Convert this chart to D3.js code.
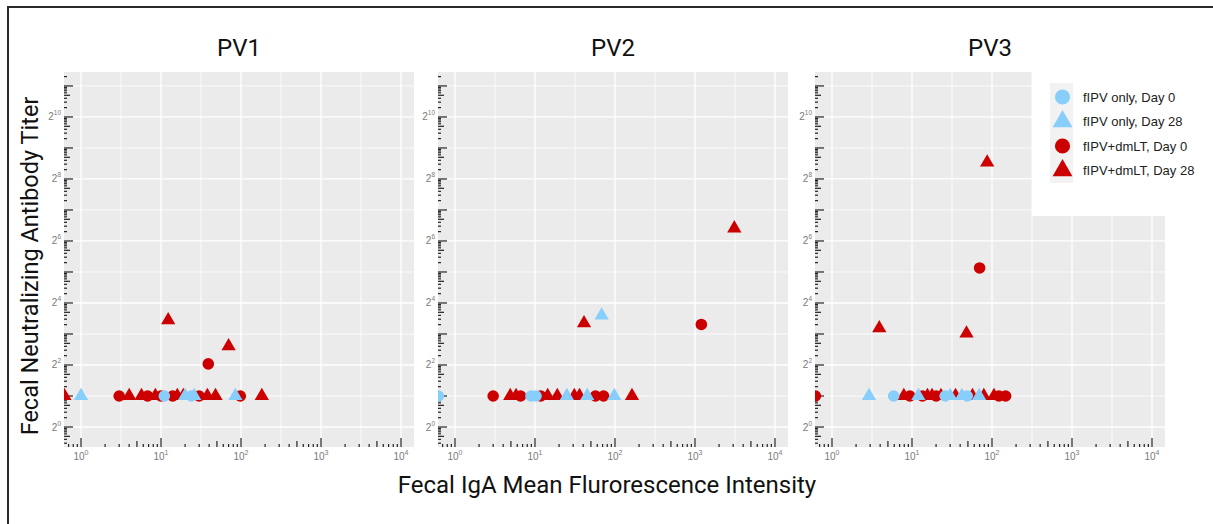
<!DOCTYPE html>
<html>
<head>
<meta charset="utf-8">
<script src="https://cdn.jsdelivr.net/npm/d3@7"></script>
<style>
  body { margin: 0; background: #fff; }
  svg { display: block; }
</style>
</head>
<body>
<svg id="chart"></svg>
<script>
// values: [MFI, titer]
const panels = ['PV1', 'PV2', 'PV3'];
const groups = ['fIPV only, Day 0', 'fIPV only, Day 28', 'fIPV+dmLT, Day 0', 'fIPV+dmLT, Day 28'];

const pv1IpvDay0 = [[11, 2], [24, 2]];
const pv1IpvDay28 = [[1.0, 2], [20, 2], [26, 2], [85, 2]];
const pv1DmltDay0 = [[3.0, 2], [6.8, 2], [10, 2], [14, 2], [30, 2], [98, 2], [39, 4.1]];
const pv1DmltDay28 = [[0.62, 2], [4, 2], [5.7, 2], [8.5, 2], [16, 2], [19, 2], [38, 2], [48, 2], [182, 2], [12.3, 10.9], [70, 6.1]];

const pv2IpvDay0 = [[0.62, 2], [8.9, 2], [10.3, 2]];
const pv2IpvDay28 = [[25, 2], [45, 2], [98, 2], [68, 12.1]];
const pv2DmltDay0 = [[3.0, 2], [6.6, 2], [11.8, 2], [57, 2], [72, 2], [1200, 9.9]];
const pv2DmltDay28 = [[4.9, 2], [5.8, 2], [14.4, 2], [19, 2], [31, 2], [36, 2], [163, 2], [41, 10.2], [3100, 85]];

const pv3IpvDay0 = [[5.9, 2], [26, 2], [49, 2]];
const pv3IpvDay28 = [[2.9, 2], [12, 2], [30, 2], [42, 2], [69, 2]];
const pv3DmltDay0 = [[0.62, 2], [9.4, 2], [13.5, 2], [20, 2], [122, 2], [148, 2], [70, 35]];
const pv3DmltDay28 = [[7.9, 2], [15.6, 2], [17.8, 2], [23, 2], [35, 2], [57, 2], [79, 2], [106, 2], [87, 370], [3.9, 9.1], [48, 8.1]];

const xTickExps = [0, 1, 2, 3, 4];
const yTickExps = [0, 2, 4, 6, 8, 10];

const panelData = [
    [pv1DmltDay0, pv1DmltDay28, pv1IpvDay0, pv1IpvDay28],
    [pv2DmltDay0, pv2DmltDay28, pv2IpvDay0, pv2IpvDay28],
    [pv3DmltDay0, pv3DmltDay28, pv3IpvDay0, pv3IpvDay28]
];
// group index for each entry of panelData rows
const drawOrder = [2, 3, 0, 1];

const width = 1213;
const height = 524;
const colors = ['#87CEFA', '#87CEFA', '#CC0000', '#CC0000'];
const shapes = [d3.symbolCircle, d3.symbolTriangle, d3.symbolCircle, d3.symbolTriangle];

const svg = d3.select('#chart')
    .attr('width', width)
    .attr('height', height);

// outer frame (top and left visible)
svg.append('path')
    .attr('d', `M8,${height} L8,7 L${width},7`)
    .attr('fill', 'none')
    .attr('stroke', '#2b2b2b')
    .attr('stroke-width', 2);

const panelW = 350;
const panelH = 375;
const panelTop = 72;
const panelLefts = [64, 438, 815];

const x = d3.scaleLog().base(10)
    .domain([Math.pow(10, -0.2125), Math.pow(10, 4.1625)])
    .range([0, panelW]);
const y = d3.scaleLog().base(2)
    .domain([Math.pow(2, -0.645), Math.pow(2, 11.45)])
    .range([panelH, 0]);

const defs = svg.append('defs');
defs.append('clipPath').attr('id', 'panel-clip')
    .append('rect').attr('width', panelW).attr('height', panelH);

panels.forEach((name, p) => {
    const g = svg.append('g')
        .attr('transform', `translate(${panelLefts[p]},${panelTop})`);

    g.append('rect')
        .attr('width', panelW)
        .attr('height', panelH)
        .attr('fill', '#EBEBEB');

    // grid: minor at half decades / odd powers of 2, major at the rest
    const xGrid = d3.range(-0.5, 4.5, 0.5).map(e => Math.pow(10, e))
        .filter(v => x(v) >= 0 && x(v) <= panelW);
    const yGrid = d3.range(0, 12).map(e => Math.pow(2, e))
        .filter(v => y(v) >= 0 && y(v) <= panelH);

    g.selectAll('.vgrid').data(xGrid).join('line')
        .attr('x1', d => x(d)).attr('x2', d => x(d))
        .attr('y1', 0).attr('y2', panelH)
        .attr('stroke', '#fff')
        .attr('stroke-width', (d, i) => Number.isInteger(Math.log10(d)) ? 1.3 : 0.8);

    g.selectAll('.hgrid').data(yGrid).join('line')
        .attr('x1', 0).attr('x2', panelW)
        .attr('y1', d => y(d)).attr('y2', d => y(d))
        .attr('stroke', '#fff')
        .attr('stroke-width', d => Math.log2(d) % 2 === 0 ? 1.3 : 0.8);

    // log ticks inside the panel
    const tickLen = m => m === 1 ? 9 : (m === 5 ? 6 : 3);
    const xTicks = [];
    d3.range(-1, 5).forEach(k => d3.range(1, 10).forEach(m => {
        const v = m * Math.pow(10, k);
        if (x(v) >= 0 && x(v) <= panelW) xTicks.push({ v, m });
    }));
    g.selectAll('.xtick').data(xTicks).join('line')
        .attr('x1', d => x(d.v)).attr('x2', d => x(d.v))
        .attr('y1', panelH).attr('y2', d => panelH - tickLen(d.m))
        .attr('stroke', '#222')
        .attr('stroke-width', 1.2);

    const yTicks = [];
    d3.range(-1, 12).forEach(k => d3.range(1, 10).forEach(m => {
        const v = Math.pow(2, k + Math.log10(m));
        if (y(v) >= 0 && y(v) <= panelH) yTicks.push({ v, m });
    }));
    g.selectAll('.ytick').data(yTicks).join('line')
        .attr('x1', 0).attr('x2', d => tickLen(d.m))
        .attr('y1', d => y(d.v)).attr('y2', d => y(d.v))
        .attr('stroke', '#222')
        .attr('stroke-width', 1.2);

    // tick labels
    const xl = g.selectAll('.xlab').data(xTickExps).join('text')
        .attr('x', d => x(Math.pow(10, d)))
        .attr('y', panelH + 13)
        .attr('text-anchor', 'middle')
        .attr('font-family', 'Liberation Sans, Arial, sans-serif')
        .attr('font-size', 10)
        .attr('fill', '#7a7a7a');
    xl.append('tspan').text('10');
    xl.append('tspan').attr('dy', -5).attr('font-size', 7).text(d => d);

    const yl = g.selectAll('.ylab').data(yTickExps).join('text')
        .attr('x', -3)
        .attr('y', d => y(Math.pow(2, d)) + 3.5)
        .attr('text-anchor', 'end')
        .attr('font-family', 'Liberation Sans, Arial, sans-serif')
        .attr('font-size', 10)
        .attr('fill', '#7a7a7a');
    yl.append('tspan').text('2');
    yl.append('tspan').attr('dy', -5).attr('font-size', 6.5).text(d => d);

    // points
    const pts = g.append('g').attr('clip-path', 'url(#panel-clip)');
    panelData[p].forEach((series, j) => {
        const gi = drawOrder[j];
        const sym = d3.symbol().type(shapes[gi]).size(gi % 2 === 0 ? 106 : 88);
        pts.selectAll(null).data(series).join('path')
            .attr('d', sym)
            .attr('transform', d => `translate(${x(d[0])},${y(d[1])})`)
            .attr('fill', colors[gi]);
    });

    // title
    svg.append('text')
        .attr('x', panelLefts[p] + panelW / 2)
        .attr('y', 56)
        .attr('text-anchor', 'middle')
        .attr('font-family', 'Roboto, sans-serif')
        .attr('font-size', 24)
        .attr('fill', '#111')
        .text(name);
});

// axis titles
svg.append('text')
    .attr('x', 607)
    .attr('y', 493)
    .attr('text-anchor', 'middle')
    .attr('font-family', 'Roboto, sans-serif')
    .attr('font-size', 24)
    .attr('fill', '#111')
    .text('Fecal IgA Mean Flurorescence Intensity');

svg.append('text')
    .attr('transform', 'translate(38,266) rotate(-90)')
    .attr('text-anchor', 'middle')
    .attr('font-family', 'Roboto, sans-serif')
    .attr('font-size', 23.5)
    .attr('fill', '#111')
    .text('Fecal Neutralizing Antibody Titer');

// legend inside panel 3
const legend = svg.append('g');
legend.append('rect')
    .attr('x', 1032).attr('y', 72)
    .attr('width', width - 1032).attr('height', 144)
    .attr('fill', '#fff');

const keyY = d3.scalePoint().domain(groups).range([97, 170.5]);
legend.append('rect')
    .attr('x', 1050).attr('y', 83)
    .attr('width', 23).attr('height', 100)
    .attr('fill', '#F2F2F2');

groups.forEach((gname, i) => {
    legend.append('path')
        .attr('d', d3.symbol().type(shapes[i]).size(i % 2 === 0 ? 180 : 170))
        .attr('transform', `translate(1062.5,${keyY(gname)})`)
        .attr('fill', colors[i]);
    legend.append('text')
        .attr('x', 1083)
        .attr('y', keyY(gname) + 4.5)
        .attr('font-family', 'Liberation Sans, Arial, sans-serif')
        .attr('font-size', 13)
        .attr('fill', '#222')
        .text(gname);
});
</script>
</body>
</html>
